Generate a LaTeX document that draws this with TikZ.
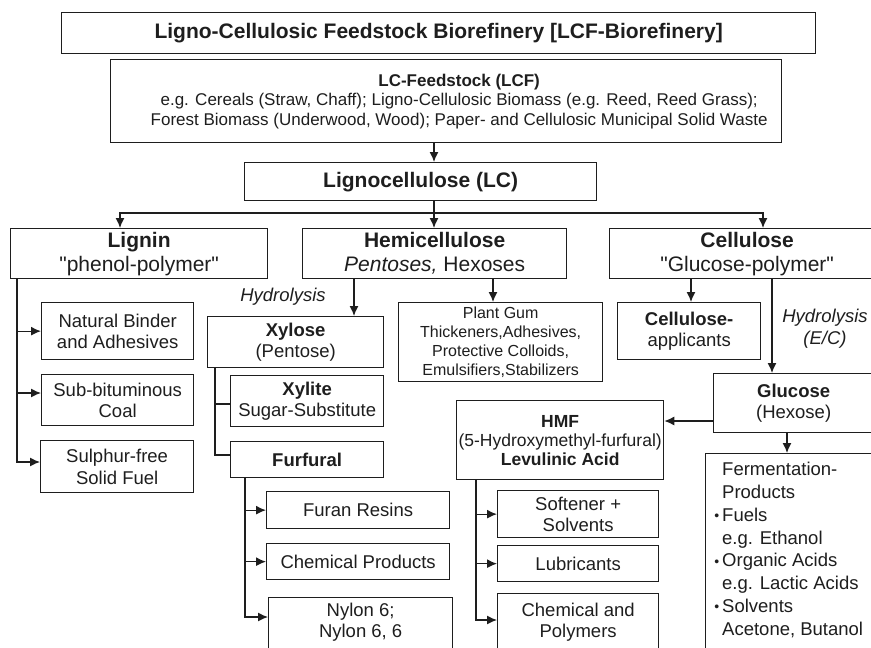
\documentclass[tikz,border=0pt]{standalone}
\usepackage{fontspec}
\setmainfont{Liberation Sans}
\usetikzlibrary{arrows.meta}
\definecolor{ink}{HTML}{1E1E1E}
\newcommand{\fermbullet}{\llap{\raisebox{0.5pt}{\fontsize{14}{14}\selectfont\textbullet}\hspace{3pt}}}
\begin{document}
\begin{tikzpicture}[x=1pt,y=-1pt,
  every node/.style={text=ink},
  box/.style={draw=ink, line width=1.3pt, inner sep=0pt, align=center, anchor=north west},
  txt/.style={inner sep=0pt, align=center},
  head/.style={font=\fontsize{21}{24}\selectfont},
  norm/.style={font=\fontsize{18.5}{21.5}\selectfont},
  small/.style={font=\fontsize{16}{19}\selectfont},
  lab/.style={inner sep=0pt, align=center, font=\itshape\fontsize{18.5}{22}\selectfont},
  conn/.style={draw=ink, line width=1.3pt},
  arr/.style={conn, -{Latex[length=10pt,width=9pt]}}]
\useasboundingbox (0,0) rectangle (871,648);
\fill[white] (0,0) rectangle (871,648);
\clip (0,0) rectangle (871,648);

% guide lines for the connectors
\coordinate (spine) at (434,0);
\coordinate (bus) at (0,213);
\coordinate (ax1) at (120,0);
\coordinate (ax3) at (763,0);
\coordinate (hx1) at (354,0);
\coordinate (hx2) at (493,0);
\coordinate (cx1) at (691,0);
\coordinate (cx2) at (772,0);
\coordinate (gy) at (0,421);
\coordinate (fmx) at (787,0);
\coordinate (lx) at (17,0);
\coordinate (xx) at (215,0);
\coordinate (fx) at (245,0);
\coordinate (mx) at (476,0);

% top rows
\node[box, minimum width=754pt, minimum height=41pt, font=\bfseries\fontsize{21}{24}\selectfont] (title) at (61,12)
  {Ligno-Cellulosic Feedstock Biorefinery [LCF-Biorefinery]};
\node[box, minimum width=671pt, minimum height=83pt] (lcf) at (110,59) {};
\node[txt, font=\fontsize{17}{19.5}\selectfont] (lcftext) at ([xshift=13pt]lcf.center)
  {\textbf{LC-Feedstock (LCF)}\\e.g. Cereals (Straw, Chaff); Ligno-Cellulosic Biomass (e.g. Reed, Reed Grass);\\Forest Biomass (Underwood, Wood); Paper- and Cellulosic Municipal Solid Waste};
\node[box, minimum width=352pt, minimum height=38pt, font=\bfseries\fontsize{21}{24}\selectfont] (lc) at (244,162) {Lignocellulose (LC)};

% main fractions
\node[box, head, minimum width=257pt, minimum height=50pt] (lignin) at (10,228) {\textbf{Lignin}\\\textquotedbl phenol-polymer\textquotedbl};
\node[box, head, minimum width=264pt, minimum height=50pt] (hemi) at (302,228) {\textbf{Hemicellulose}\\\textit{Pentoses,} Hexoses};
\node[box, head, minimum width=275pt, minimum height=50pt] (cell) at (609,228) {\textbf{Cellulose}\\\textquotedbl Glucose-polymer\textquotedbl};

% lignin products
\node[box, norm, minimum width=152pt, minimum height=57pt] (natbinder) at (41,302) {Natural Binder\\and Adhesives};
\node[box, norm, minimum width=152pt, minimum height=51pt] (subbit) at (41,374) {Sub-bituminous\\Coal};
\node[box, norm, minimum width=153pt, minimum height=52pt] (sulphur) at (40,440) {Sulphur-free\\Solid Fuel};

% hemicellulose branch
\node[box, norm, minimum width=176pt, minimum height=51pt] (xylose) at (207,316) {\textbf{Xylose}\\(Pentose)};
\node[box, small, minimum width=204pt, minimum height=79pt] (gum) at (398,302) {Plant Gum\\Thickeners,Adhesives,\\Protective Colloids,\\Emulsifiers,Stabilizers};
\node[box, norm, minimum width=153pt, minimum height=51pt] (xylite) at (230,375) {\textbf{Xylite}\\Sugar-Substitute};
\node[box, norm, minimum width=153pt, minimum height=36pt] (furfural) at (230,441) {\textbf{Furfural}};
\node[box, norm, minimum width=183pt, minimum height=37pt] (furan) at (266,491) {Furan Resins};
\node[box, norm, minimum width=183pt, minimum height=36pt] (chemprod) at (266,543) {Chemical Products};
\node[box, minimum width=184pt, minimum height=80pt] (nylon) at (268,597) {};
\node[txt, norm] (nylontext) at ([yshift=-25pt]nylon.north) {Nylon 6;\\Nylon 6, 6};

% cellulose branch
\node[box, norm, minimum width=143pt, minimum height=57pt] (cellapp) at (617,302) {\textbf{Cellulose-}\\applicants};
\node[box, norm, minimum width=160pt, minimum height=59pt] (glucose) at (713,373) {\textbf{Glucose}\\(Hexose)};
\node[box, font=\fontsize{17.5}{19}\selectfont, minimum width=207pt, minimum height=79pt] (hmf) at (456,400)
  {\textbf{HMF}\\(5-Hydroxymethyl-furfural)\\\textbf{Levulinic Acid}};
\node[box, norm, minimum width=161pt, minimum height=47pt] (softener) at (497,490) {Softener +\\Solvents};
\node[box, norm, minimum width=161pt, minimum height=36pt] (lubric) at (497,545) {Lubricants};
\node[box, minimum width=161pt, minimum height=90pt] (chempoly) at (497,593) {};
\node[txt, norm] (chempolytext) at ([yshift=-29pt]chempoly.north) {Chemical and\\Polymers};
\node[box, minimum width=200pt, minimum height=220pt] (ferm) at (705,453) {};
\node[inner sep=0pt, align=left, anchor=north west, font=\fontsize{18.5}{22.8}\selectfont] (fermtext) at (722,462)
  {Fermentation-\\Products\\
   \fermbullet Fuels\\e.g. Ethanol\\
   \fermbullet Organic Acids\\e.g. Lactic Acids\\
   \fermbullet Solvents\\Acetone, Butanol};

% process labels
\node[lab] (hyd1) at (283,297) {Hydrolysis};
\node[lab] (hyd2) at (825,329) {Hydrolysis\\(E/C)};

% entry points on box sides that sit off-centre
\coordinate (sulphurin) at ([yshift=-22pt]sulphur.north west);
\coordinate (subbitin) at ([yshift=-19pt]subbit.north west);
\coordinate (xylitein) at ([yshift=-29pt]xylite.north west);
\coordinate (furfuralin) at ([yshift=-14pt]furfural.north west);
\coordinate (nylonin) at ([yshift=-20pt]nylon.north west);
\coordinate (chempolyin) at ([yshift=-27pt]chempoly.north west);

% connectors
\draw[arr] (lcf.south -| spine) -- (lc.north -| spine);
\draw[arr] (lc.south -| spine) -- (hemi.north -| spine);
\draw[arr] (spine |- bus) -| (ax1 |- lignin.north);
\draw[arr] (spine |- bus) -| (ax3 |- cell.north);

\draw[arr] (lignin.south -| lx) |- (sulphurin);
\draw[arr] (lx |- natbinder.west) -- (natbinder.west);
\draw[arr] (lx |- subbitin) -- (subbitin);

\draw[arr] (hemi.south -| hx1) -- (xylose.north -| hx1);
\draw[arr] (hemi.south -| hx2) -- (gum.north -| hx2);
\draw[conn] (xylose.south -| xx) |- (furfuralin);
\draw[conn] (xx |- xylitein) -- (xylitein);
\draw[arr] (furfural.south -| fx) |- (nylonin);
\draw[arr] (fx |- furan.west) -- (furan.west);
\draw[arr] (fx |- chemprod.west) -- (chemprod.west);

\draw[arr] (cell.south -| cx1) -- (cellapp.north -| cx1);
\draw[arr] (cell.south -| cx2) -- (glucose.north -| cx2);
\draw[arr] (glucose.west |- gy) -- (hmf.east |- gy);
\draw[arr] (glucose.south -| fmx) -- (ferm.north -| fmx);
\draw[arr] (hmf.south -| mx) |- (chempolyin);
\draw[arr] (mx |- softener.west) -- (softener.west);
\draw[arr] (mx |- lubric.west) -- (lubric.west);
\end{tikzpicture}
\end{document}
